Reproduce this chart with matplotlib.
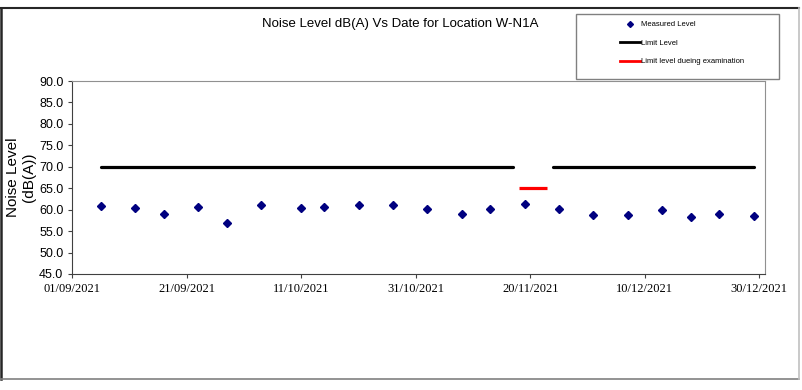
import numpy as np
import pandas as pd
import matplotlib
matplotlib.use("Agg")
import matplotlib.pyplot as plt
import matplotlib.dates as mdates
from matplotlib.lines import Line2D
from matplotlib.patches import Rectangle

# measured noise levels
meas_dates = pd.to_datetime([
    "2021-09-06", "2021-09-12", "2021-09-17", "2021-09-23", "2021-09-28",
    "2021-10-04", "2021-10-11", "2021-10-15", "2021-10-21", "2021-10-27",
    "2021-11-02", "2021-11-08", "2021-11-13", "2021-11-19", "2021-11-25",
    "2021-12-01", "2021-12-07", "2021-12-13", "2021-12-18", "2021-12-23",
    "2021-12-29"])
meas_levels = [60.8, 60.5, 59.0, 60.6, 57.0,
               61.1, 60.5, 60.6, 61.1, 61.1,
               60.1, 59.1, 60.2, 61.3, 60.1,
               58.8, 58.8, 60.0, 58.4, 59.1,
               58.6]

# limit level segments
limit_dates_1 = pd.to_datetime(["2021-09-06", "2021-11-17"])
limit_dates_2 = pd.to_datetime(["2021-11-24", "2021-12-29"])
limit_level = [70.0, 70.0]
exam_dates = pd.to_datetime(["2021-11-18", "2021-11-23"])
exam_level = [65.0, 65.0]

tick_dates = pd.date_range("2021-09-01", periods=7, freq="20D")

W, H = 803, 390
fig = plt.figure(figsize=(W / 100, H / 100), dpi=100)
ax = fig.add_axes([72.3 / W, 1 - 274 / H, (765 - 72.3) / W, (274 - 81) / H])

ax.plot(limit_dates_1, limit_level, color="black", lw=2.3, solid_capstyle="round")
ax.plot(limit_dates_2, limit_level, color="black", lw=2.3, solid_capstyle="round")
ax.plot(exam_dates, exam_level, color="red", lw=2.3, solid_capstyle="butt")
ax.plot(meas_dates, meas_levels, ls="none", marker="D", ms=3.6, color="#000080")

ax.set_xlim(pd.Timestamp("2021-09-01"), pd.Timestamp("2021-12-31"))
ax.set_ylim(45, 90)
ax.set_yticks(np.arange(45, 90.1, 5))
ax.yaxis.set_major_formatter(plt.FormatStrFormatter("%.1f"))
ax.set_xticks(tick_dates)
ax.xaxis.set_major_formatter(mdates.DateFormatter("%d/%m/%Y"))
ax.tick_params(axis="both", direction="out", length=3, width=0.8, color="#404040")
for lab in ax.get_yticklabels():
    lab.set_fontfamily("Liberation Sans")
    lab.set_fontsize(9)
for lab in ax.get_xticklabels():
    lab.set_fontfamily("Liberation Serif")
    lab.set_fontsize(9)

ax.spines["left"].set_color("#404040")
ax.spines["bottom"].set_color("#404040")
ax.spines["top"].set_color("#909090")
ax.spines["right"].set_color("#909090")

ax.set_ylabel("Noise Level\n(dB(A))", fontfamily="Liberation Sans", fontsize=11,
              linespacing=1.15, labelpad=2)

fig.text(400 / W, 1 - 24 / H, "Noise Level dB(A) Vs Date for Location W-N1A",
         ha="center", va="center", fontfamily="Liberation Sans", fontsize=9.5)

# legend box
fig.patches.append(Rectangle((576 / W, 1 - 79 / H), (779 - 576) / W, (79 - 14) / H,
                             transform=fig.transFigure, fill=False,
                             edgecolor="#808080", lw=1))
handles = [Line2D([], [], ls="none", marker="D", ms=3, color="#000080"),
           Line2D([], [], color="black", lw=2),
           Line2D([], [], color="red", lw=2)]
labels = ["Measured Level", "Limit Level", "Limit level dueing examination"]
fig.legend(handles, labels, loc="upper left", bbox_to_anchor=(614 / W, 1 - 15 / H),
           frameon=False, prop={"family": "Liberation Sans", "size": 5.5},
           handlelength=2.6, handletextpad=0.1, labelspacing=1.45, borderpad=0.3)

# outer frame
fig.add_artist(Line2D([0, 799 / W], [1 - 8 / H, 1 - 8 / H], color="#262626", lw=1.5))
fig.add_artist(Line2D([0.001, 0.001], [1 - 8 / H, 1 - 379 / H], color="#262626", lw=1.8))
fig.add_artist(Line2D([0, 799 / W], [1 - 379 / H, 1 - 379 / H], color="#808080", lw=1.2))
fig.add_artist(Line2D([799 / W, 799 / W], [1 - 8 / H, 1 - 379 / H], color="#c0c0c0", lw=1.2))

fig.savefig("out.png", dpi=100, facecolor="white")
